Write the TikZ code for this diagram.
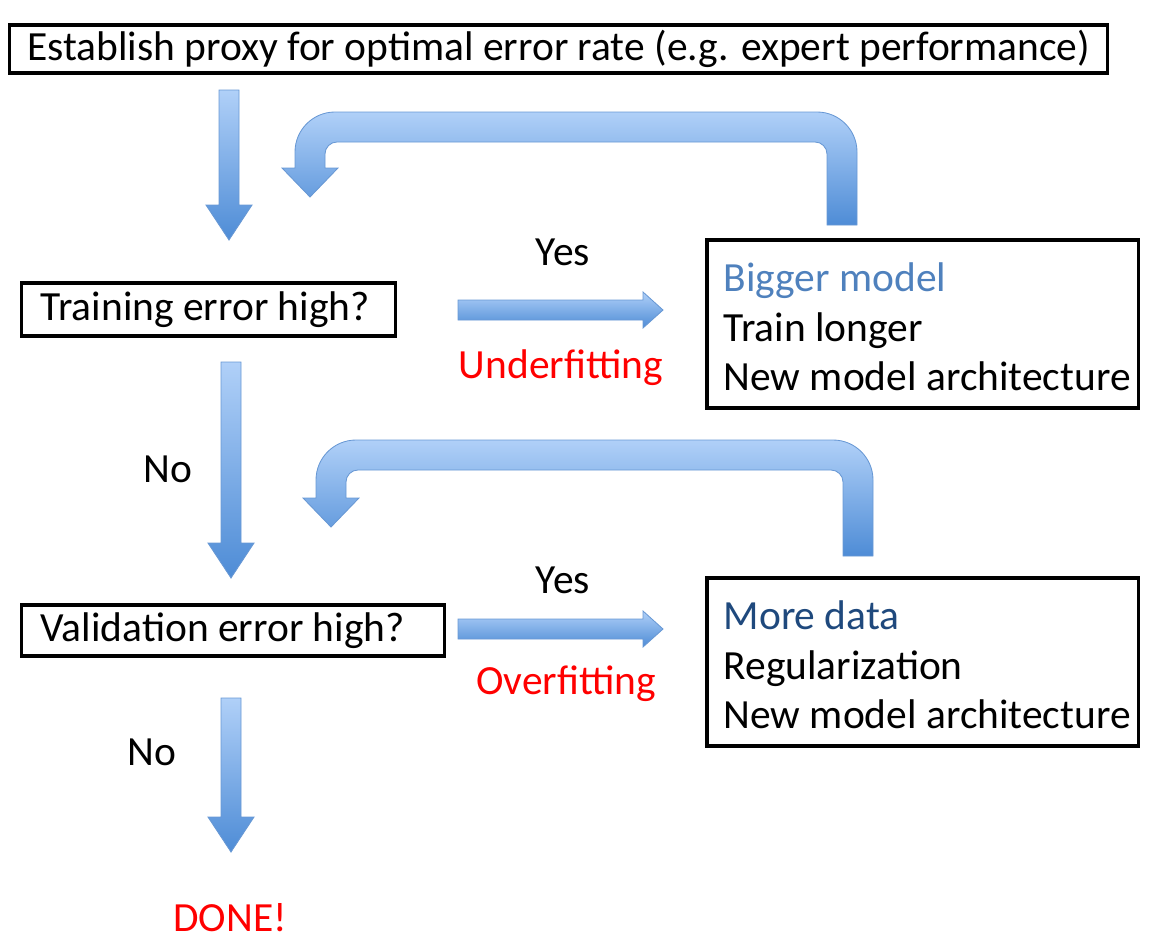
\documentclass[tikz,border=0pt]{standalone}
\usepackage{fontspec}
\setmainfont{Carlito}
\usepackage{tikz}
\usetikzlibrary{positioning, calc}

\definecolor{arrowtop}{RGB}{176,208,248}
\definecolor{arrowbot}{RGB}{78,140,214}
\definecolor{arrowline}{RGB}{104,152,212}
\definecolor{lightblue}{RGB}{79,129,189}
\definecolor{darkblue}{RGB}{31,73,125}

% fat block arrows (coordinates in pixels)
\newcommand{\fatdown}[2]{%
  \path[fatarrow] ($(#1)+(-10,0)$) -- ($(#2)+(-10,-35)$) -- ($(#2)+(-23,-35)$) -- (#2)
    -- ($(#2)+(23,-35)$) -- ($(#2)+(10,-35)$) -- ($(#1)+(10,0)$) -- cycle;}
\newcommand{\fatright}[2]{%
  \path[fatarrow] ($(#1)+(0,-10)$) -- ($(#2)+(-20,-10)$) -- ($(#2)+(-20,-18)$) -- (#2)
    -- ($(#2)+(-20,18)$) -- ($(#2)+(-20,10)$) -- ($(#1)+(0,10)$) -- cycle;}
% #1 right x, #2 bottom y, #3 top y, #4 left x, #5 tip y
\newcommand{\fatloop}[5]{%
  \path[fatarrow] ({#1+15},#2) -- ({#1+15},{#3+25}) arc (0:-90:40) -- ({#4+25},{#3-15})
    arc (-90:-180:40) -- ({#4-15},{#5-29}) -- ({#4-28},{#5-29}) -- (#4,#5)
    -- ({#4+28},{#5-29}) -- ({#4+15},{#5-29}) -- ({#4+15},{#3+27}) arc (180:270:12)
    -- ({#1-27},{#3+15}) arc (270:360:12) -- ({#1-15},#2) -- cycle;}

\begin{document}
\begin{tikzpicture}[
    x=0.025cm, y=-0.025cm,
    font=\fontsize{29.5}{35}\selectfont,
    box/.style={
        rectangle,
        draw=black,
        line width=2.2pt,
        inner sep=0pt
    },
    fatarrow/.style={
        top color=arrowtop,
        bottom color=arrowbot,
        draw=arrowline,
        line width=0.6pt
    },
    red label/.style={text=red}
]
\useasboundingbox (0,0) rectangle (1157,940);

% --- boxes ---
\node[box, minimum width=27.425cm, minimum height=1.2cm] (est) at (558.5,49)
    {Establish proxy for optimal error rate (e.g. expert performance)};
\node[box, minimum width=9.325cm, minimum height=1.325cm] (train) at (208.5,309.5) {};
\node[anchor=west, inner sep=0pt] (traintext) at ([xshift=0.5cm]train.west) {Training error high?};
\node[box, minimum width=10.55cm, minimum height=1.275cm] (valid) at (233,630.5) {};
\node[anchor=west, inner sep=0pt] (validtext) at ([xshift=0.5cm]valid.west) {Validation error high?};

\node[box, minimum width=10.775cm, minimum height=4.2cm] (bigger) at (922.5,324) {};
\node[anchor=west, align=left, inner sep=0pt] (biggertext) at ([xshift=0.45cm, yshift=-0.07cm]bigger.west)
    {\textcolor{lightblue}{Bigger model}\\Train longer\\New model architecture};
\node[box, minimum width=10.775cm, minimum height=4.2cm] (moredata) at (922.5,662) {};
\node[anchor=west, align=left, inner sep=0pt] (moredatatext) at ([xshift=0.45cm, yshift=-0.07cm]moredata.west)
    {\textcolor{darkblue}{More data}\\Regularization\\New model architecture};

% --- labels ---
\node (yes1) at (563,252) {Yes};
\node[red label] (under) at (561,368) {Underfitting};
\node (no1) at (168,469) {No};
\node (yes2) at (563,580) {Yes};
\node[red label] (over) at (566,684) {Overfitting};
\node (no2) at (152,752) {No};
\node[red label] (done) at (230,918) {DONE!};

% --- arrow ends ---
\coordinate (d1s) at (229,90);  \coordinate (d1e) at (229,240);
\coordinate (d2s) at (231,362); \coordinate (d2e) at (231,578);
\coordinate (d3s) at (231,698); \coordinate (d3e) at (231,852);
\coordinate (r1s) at (458,310); \coordinate (r1e) at (663,310);
\coordinate (r2s) at (458,629); \coordinate (r2e) at (663,629);

\fatdown{d1s}{d1e}
\fatdown{d2s}{d2e}
\fatdown{d3s}{d3e}
\fatright{r1s}{r1e}
\fatright{r2s}{r2e}

% --- feedback loops ---
\fatloop{842}{225}{127}{310}{197}
\fatloop{858}{556}{455}{331}{527}

\end{tikzpicture}
\end{document}
